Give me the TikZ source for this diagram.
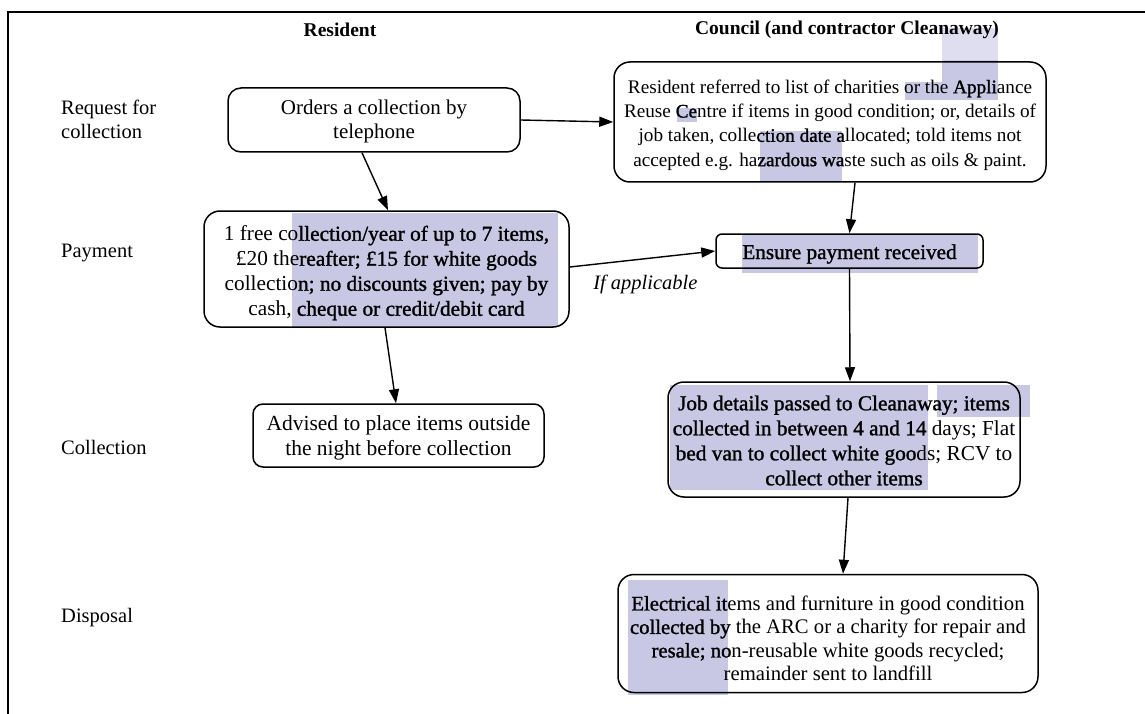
\documentclass[tikz,border=0pt]{standalone}
\usepackage{fontspec}
\setmainfont{Liberation Serif}
\newfontface\hlbface{Liberation Serif}[FakeBold=1.3]
\newcommand\hb[1]{{\hlbface #1}}
\usetikzlibrary{arrows.meta}
\definecolor{hl}{RGB}{200,200,229}
\definecolor{hllight}{RGB}{222,222,240}
\tikzset{
  box/.style={draw, line width=1.5pt, rounded corners=13pt, inner sep=0pt},
  txt/.style={align=center, inner sep=0pt, font=\fontsize{21}{24}\selectfont},
  lbl/.style={align=left, anchor=west, inner sep=0pt, font=\fontsize{20.5}{24}\selectfont},
  hdr/.style={inner sep=0pt, font=\fontsize{19.5}{23}\selectfont\bfseries},
  arr/.style={line width=1.4pt, -{Triangle[length=14pt,width=10pt]}},
}
\begin{document}
\begin{tikzpicture}[x=1pt,y=-1pt]
\useasboundingbox (0,0) rectangle (1145,714);
% frame
\draw[line width=1.3pt] (8,714) -- (8,12) -- (1145,12);
% highlights
\fill[hllight] (942,28) rectangle (998,60);
\fill[hl] (942,60) rectangle (998,100);
\fill[hl] (905,82) rectangle (942,100);
\fill[hl] (677,108) rectangle (697,122);
\fill[hl] (760,131) rectangle (842,182);
\fill[hl] (292,213) rectangle (558,327);
\fill[hl] (742,235) rectangle (978,273);
\fill[hl] (670,385) rectangle (928,490);
\fill[hl] (937,385) rectangle (1030,417);
\fill[hl] (628,580) rectangle (728,695);
% headers
\node[hdr] (hres) at (340,30) {Resident};
\node[hdr] (hcou) at (847,30) {Council (and contractor Cleanaway)};
% row labels
\node[lbl] (l1) at (61,119) {Request for\\collection};
\node[lbl] (l2) at (61,253) {Payment};
\node[lbl] (l3) at (61,447) {Collection};
\node[lbl] (l4) at (61,618) {Disposal};
% boxes
\node[box, minimum width=292pt, minimum height=64pt] (A) at (374,120) {};
\node[box, minimum width=432pt, minimum height=120pt, rounded corners=16pt] (B) at (830,122) {};
\node[box, minimum width=365pt, minimum height=116pt, rounded corners=16pt] (C) at (386.5,269) {};
\node[box, minimum width=267pt, minimum height=34pt, rounded corners=6pt] (D) at (849.5,251) {};
\node[box, minimum width=291pt, minimum height=63pt, rounded corners=10pt] (E) at (398.5,435.5) {};
\node[box, minimum width=352pt, minimum height=115pt, rounded corners=16pt] (F) at (844,439.5) {};
\node[box, minimum width=420pt, minimum height=118pt, rounded corners=16pt] (G) at (828,633.5) {};
% box texts
\node[txt] (At) at ([yshift=-1.5pt]A.center) {Orders a collection by\\telephone};
\node[txt, font=\fontsize{19.2}{24.3}\selectfont] (Bt) at ([yshift=-3pt]B.center)
  {Resident referred to list of charities or the \hb{Appli}ance\\Reuse \hb{Ce}ntre if items in good condition; or, details of\\job taken, colle\hb{ction date a}llocated; told items not\\accepted e.g. ha\hb{zardous wa}ste such as oils \& paint.};
\node[txt, font=\fontsize{21.3}{25}\selectfont] (Ct) at ([yshift=-4pt]C.center)
  {1 free co\hb{llection/year of up to 7 items,}\\\pounds20 the\hb{reafter; \pounds15 for white goods}\\collectio\hb{n; no discounts given; pay by}\\cash, \hb{cheque or credit/debit card}};
\node[txt, font=\fontsize{21.2}{24}\selectfont] (Dt) at ([yshift=-3pt]D.center) {\hb{Ensure payment received}};
\node[txt, font=\fontsize{21.5}{24.5}\selectfont] (Et) at ([yshift=-2.5pt]E.center)
  {Advised to place items outside\\the night before collection};
\node[txt, font=\fontsize{21.3}{25}\selectfont] (Ft) at ([yshift=-1pt]F.center)
  {\hb{Job details passed to Cleanaway; items}\\\hb{collected in between 4 and 14} days; Flat\\\hb{bed van to collect white goo}ds; RCV to\\\hb{collect other items}};
\node[txt, font=\fontsize{20.7}{23.5}\selectfont] (Gt) at ([yshift=-5pt]G.center)
  {\hb{Electrical it}ems and furniture in good condition\\\hb{collected by} the ARC or a charity for repair and\\\hb{resale; no}n-reusable white goods recycled;\\remainder sent to landfill};
% connectors
\draw[arr] ([xshift=-12pt]A.south) -- ([xshift=1.5pt]C.north);
\draw[arr] (A.east) -- (B.west);
\draw[arr] ([xshift=25pt]B.south) -- (D.north);
\draw[arr] ([yshift=2pt]C.east) -- node[below=16pt, pos=0.52, inner sep=0pt, font=\fontsize{20.5}{24}\selectfont\itshape] (lif) {If applicable} (D.west);
\draw[arr] ([xshift=-1.5pt]C.south) -- ([xshift=-2.5pt]E.north);
\draw[arr] (D.south) -- ([xshift=6pt]F.north);
\draw[arr] ([xshift=4pt]F.south) -- ([xshift=15pt]G.north);
\end{tikzpicture}
\end{document}
